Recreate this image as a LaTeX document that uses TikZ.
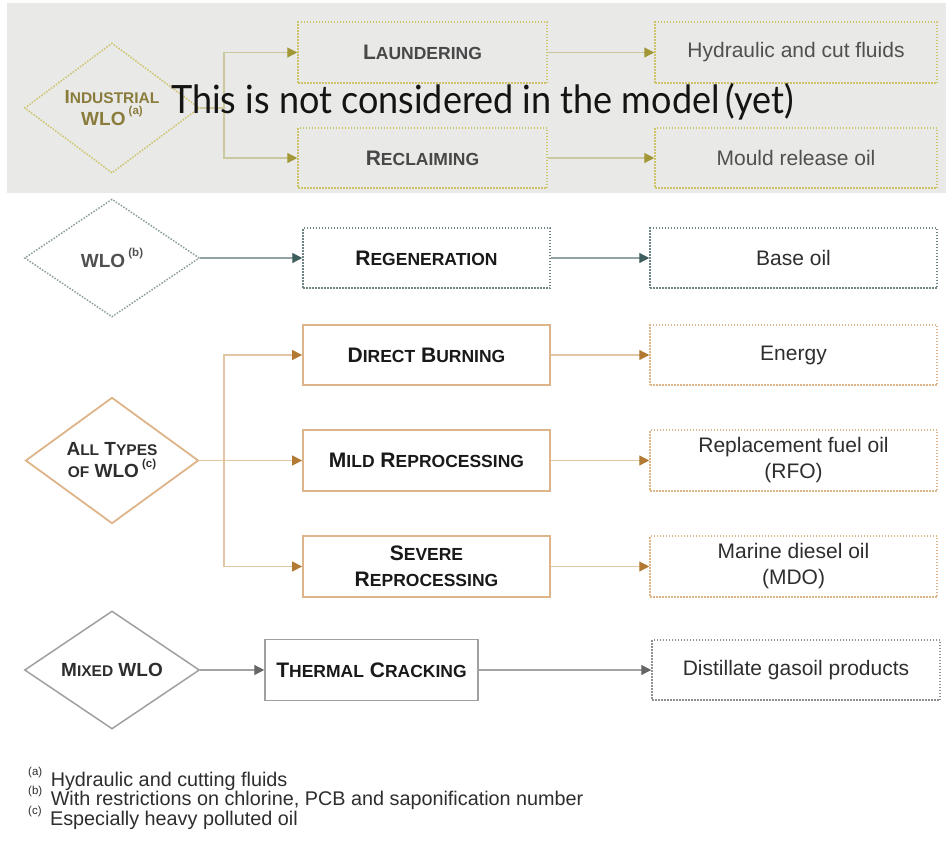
\documentclass[tikz,border=0pt]{standalone}
\usepackage{fontspec}
\setmainfont{Liberation Sans}
\newfontfamily\overlayfont{Lato}
\usepackage{graphicx}
\usetikzlibrary{shapes.geometric,arrows.meta}
\definecolor{bggray}{HTML}{E9E9E7}
\definecolor{indborder}{HTML}{CDC46A}
\definecolor{indline}{HTML}{CBC79E}
\definecolor{indtip}{HTML}{A39838}
\definecolor{indtext}{HTML}{8A7C3C}
\definecolor{fadetext}{HTML}{505050}
\definecolor{regborder}{HTML}{6F8484}
\definecolor{regline}{HTML}{93A3A3}
\definecolor{regtip}{HTML}{3E5E5E}
\definecolor{orgborder}{HTML}{DDB588}
\definecolor{orgline}{HTML}{E3C6A4}
\definecolor{orgtip}{HTML}{B27A32}
\definecolor{mixborder}{HTML}{A0A0A0}
\definecolor{mixline}{HTML}{A3A3A3}
\definecolor{mixtip}{HTML}{666666}
\definecolor{txt}{HTML}{2E2E2E}
\newcommand\BoxSC[2]{#1{\fontsize{17.5}{20}\selectfont #2}}
\newcommand\DiaSC[2]{#1{\fontsize{15.5}{18}\selectfont #2}}
\newcommand\SupNote[1]{\raisebox{0.55em}{\fontsize{11.5}{12}\selectfont(#1)}}
\tikzset{
  basebox/.style={rectangle, inner sep=0pt, align=center, fill=white,
    font=\fontsize{21}{26}\selectfont, text=txt},
  labelbox/.style={basebox, font=\fontsize{21}{26}\selectfont\bfseries, text=black!90},
  dia/.style={diamond, inner sep=0pt, align=center, fill=white,
    font=\fontsize{19}{22}\selectfont\bfseries, text=txt},
  dotb/.style={dash pattern=on 1.5pt off 1.5pt, line width=1.5pt},
  indbox/.style={draw=indborder, dotb, fill=none, text=fadetext},
  regbox/.style={draw=regborder, dotb},
  orgsolid/.style={draw=orgborder, line width=1.8pt},
  orgdot/.style={draw=orgborder, dotb},
  mixsolid/.style={draw=mixborder, line width=1.5pt},
  mixdot/.style={draw=mixborder!90!black, dotb},
  tipT/.style={-{Triangle[length=10pt,width=10pt,fill=#1,color=#1]}},
  indconn/.style={draw=indline, line width=1.2pt},
  regconn/.style={draw=regline, line width=1.2pt},
  orgconn/.style={draw=orgline, line width=1.2pt},
  mixconn/.style={draw=mixline, line width=1.2pt},
  foot/.style={anchor=base west, inner sep=0pt, font=\fontsize{19.8}{24}\selectfont, text=txt}
}
\begin{document}
\begin{tikzpicture}[x=1pt,y=-1pt]
\useasboundingbox (0,0) rectangle (946,844);
\fill[white] (0,0) rectangle (946,844);
\fill[bggray] (7,3) rectangle (946,193);

% ---------- industrial (faded) ----------
\node[dia, indbox, text=indtext, minimum width=175pt, minimum height=115pt] (ind) at (112,108)
  {\DiaSC{I}{NDUSTRIAL}\\WLO\,\SupNote{a}};
\node[labelbox, indbox, text=fadetext!90!black, minimum width=249pt, minimum height=61pt] (laund) at (422.5,52.5) {\BoxSC{L}{AUNDERING}};
\node[labelbox, indbox, text=fadetext!90!black, minimum width=249pt, minimum height=60pt] (reclaim) at (422.5,158) {\BoxSC{R}{ECLAIMING}};
\node[basebox, indbox, minimum width=282pt, minimum height=61pt] (hydr) at (796,52.5) {Hydraulic and cut fluids};
\node[basebox, indbox, minimum width=282pt, minimum height=60pt] (mould) at (796,158) {Mould release oil};
\coordinate (indsplit) at (224,108);
\draw[indconn] (ind.east) -- (indsplit);
\draw[indconn, tipT=indtip] (indsplit) |- (laund.west);
\draw[indconn, tipT=indtip] (indsplit) |- (reclaim.west);
\draw[indconn, tipT=indtip] (laund.east) -- (hydr.west);
\draw[indconn, tipT=indtip] (reclaim.east) -- (mould.west);

% ---------- regeneration ----------
\node[dia, regbox, draw=regborder!80, text=fadetext, minimum width=175pt, minimum height=118pt] (wlob) at (112,258)
  {WLO\,\SupNote{b}};
\node[labelbox, regbox, minimum width=247pt, minimum height=60pt] (regen) at (426.5,258) {\BoxSC{R}{EGENERATION}};
\node[basebox, regbox, minimum width=287pt, minimum height=60pt] (base) at (793.5,258) {Base oil};
\draw[regconn, tipT=regtip] (wlob.east) -- (regen.west);
\draw[regconn, tipT=regtip] (regen.east) -- (base.west);

% ---------- all types ----------
\node[dia, draw=orgborder, line width=1.8pt, minimum width=173pt, minimum height=117pt] (allt) at (112,460.5)
  {\DiaSC{A}{LL} \DiaSC{T}{YPES}\\\DiaSC{}{OF} WLO\,\SupNote{c}};
\node[labelbox, orgsolid, minimum width=247pt, minimum height=60pt] (direct) at (426.5,355) {\BoxSC{D}{IRECT} \BoxSC{B}{URNING}};
\node[basebox, orgdot, minimum width=287pt, minimum height=60pt] (energy) at (793.5,355) {Energy};
\node[labelbox, orgsolid, minimum width=247pt, minimum height=61pt] (mild) at (426.5,460.5) {\BoxSC{M}{ILD} \BoxSC{R}{EPROCESSING}};
\node[basebox, orgdot, minimum width=287pt, minimum height=61pt] (rfo) at (793.5,460.5) {Replacement fuel oil\\(RFO)};
\node[labelbox, orgsolid, minimum width=247pt, minimum height=61pt] (severe) at (426.5,566.5) {\BoxSC{S}{EVERE}\\\BoxSC{R}{EPROCESSING}};
\node[basebox, orgdot, minimum width=287pt, minimum height=61pt] (mdo) at (793.5,566.5) {Marine diesel oil\\(MDO)};
\coordinate (allsplit) at (224,460.5);
\draw[orgconn, tipT=orgtip] (allt.east) -- (mild.west);
\draw[orgconn, tipT=orgtip] (allsplit) |- (direct.west);
\draw[orgconn, tipT=orgtip] (allsplit) |- (severe.west);
\draw[orgconn, tipT=orgtip] (direct.east) -- (energy.west);
\draw[orgconn, tipT=orgtip] (mild.east) -- (rfo.west);
\draw[orgconn, tipT=orgtip] (severe.east) -- (mdo.west);

% ---------- mixed ----------
\node[dia, mixsolid, minimum width=175pt, minimum height=118pt] (mixed) at (112,670)
  {\DiaSC{M}{IXED} WLO};
\node[labelbox, mixsolid, minimum width=213pt, minimum height=61pt] (thermal) at (371.5,670) {\BoxSC{T}{HERMAL} \BoxSC{C}{RACKING}};
\node[basebox, mixdot, minimum width=288pt, minimum height=60pt] (dist) at (796,670) {Distillate gasoil products};
\draw[mixconn, tipT=mixtip] (mixed.east) -- (thermal.west);
\draw[mixconn, tipT=mixtip] (thermal.east) -- (dist.west);

% ---------- footnotes ----------
\node[foot] (fa) at (28,786) {\SupNote{a}\hspace{3pt} Hydraulic and cutting fluids};
\node[foot] (fb) at (28,805.5) {\SupNote{b}\hspace{3pt} With restrictions on chlorine, PCB and saponification number};
\node[foot] (fc) at (28,825) {\SupNote{c}\hspace{3pt} Especially heavy polluted oil};

% ---------- overlay ----------
\node[anchor=base west, inner sep=0pt, text=black!92] (overlay) at (171,113)
  {\resizebox{623pt}{\height}{\overlayfont\fontsize{39}{44}\selectfont This is not considered in the model\,(yet)}};
\end{tikzpicture}
\end{document}
